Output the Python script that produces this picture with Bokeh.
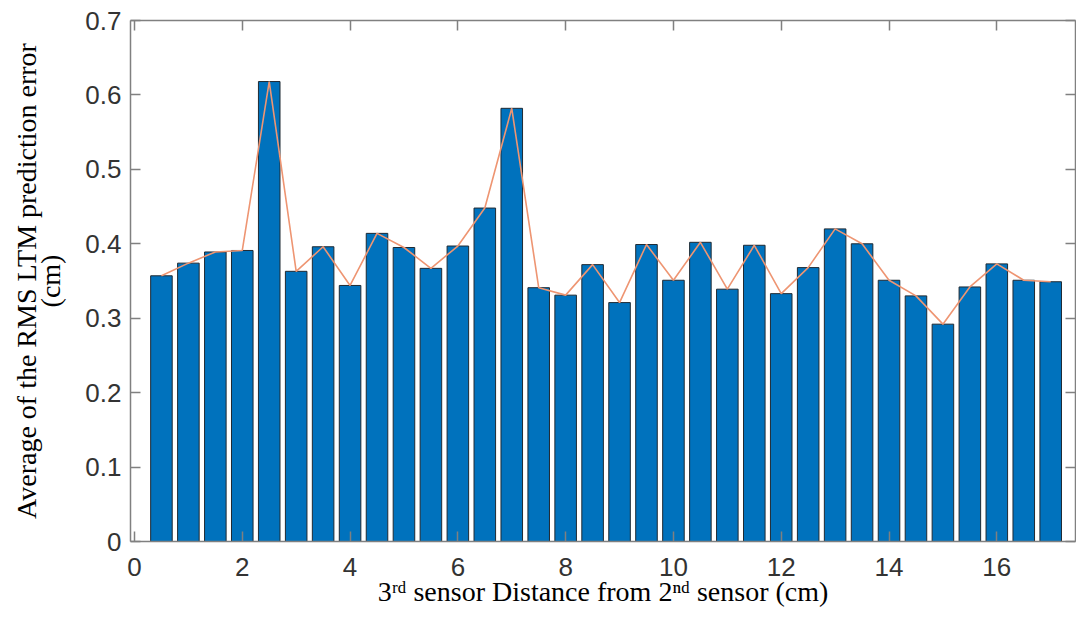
from bokeh.plotting import figure
from bokeh.models import Range1d, FixedTicker, LinearAxis, CustomJSTickFormatter
from bokeh.embed import file_html
from bokeh.resources import INLINE

# ---- data ----
distance_cm = [0.5, 1.0, 1.5, 2.0, 2.5, 3.0, 3.5, 4.0, 4.5, 5.0, 5.5, 6.0,
               6.5, 7.0, 7.5, 8.0, 8.5, 9.0, 9.5, 10.0, 10.5, 11.0, 11.5, 12.0,
               12.5, 13.0, 13.5, 14.0, 14.5, 15.0, 15.5, 16.0, 16.5, 17.0]
rms_error_cm = [0.357, 0.374, 0.389, 0.391, 0.618, 0.363, 0.396, 0.344, 0.414, 0.395, 0.367, 0.397,
                0.448, 0.582, 0.341, 0.331, 0.372, 0.321, 0.399, 0.351, 0.402, 0.339, 0.398, 0.333,
                0.368, 0.420, 0.400, 0.351, 0.330, 0.292, 0.342, 0.373, 0.351, 0.349]
x_ticks = [0, 2, 4, 6, 8, 10, 12, 14, 16]
x_tick_labels = ["0", "2", "4", "6", "8", "10", "12", "14", "16"]
y_ticks = [0, 0.1, 0.2, 0.3, 0.4, 0.5, 0.6, 0.7]
y_tick_labels = ["0", "0.1", "0.2", "0.3", "0.4", "0.5", "0.6", "0.7"]
x_label = "3\u02b3\u1d48 sensor Distance from 2\u207f\u1d48 sensor (cm)"
y_label = "Average of the RMS LTM prediction error\n(cm)"

AX = "#808080"
TICK_TXT = "#333333"
SANS = "Liberation Sans"
SERIF = "Liberation Serif"

W, H = 1076, 627
p = figure(width=W, height=H, output_backend="svg", toolbar_location=None,
           x_range=Range1d(-0.074, 17.46), y_range=Range1d(0, 0.7),
           min_border_left=130, min_border_top=20, min_border_bottom=86, min_border_right=1)
p.grid.visible = False
p.outline_line_color = None
p.background_fill_color = "white"
p.border_fill_color = "white"

p.vbar(x=distance_cm, top=rms_error_cm, width=0.4, bottom=0,
       fill_color="#0072BD", line_color="#1f2a33", line_width=1)
p.line(x=distance_cm, y=rms_error_cm, line_color="#EE9572", line_width=1.6)

def style_axis(ax, ticks, labels, show_labels=True):
    ax.ticker = FixedTicker(ticks=ticks)
    ax.axis_line_color = AX
    ax.axis_line_width = 1.5
    ax.major_tick_line_color = AX
    ax.major_tick_line_width = 1.5
    ax.major_tick_in = 10
    ax.major_tick_out = 0
    ax.minor_tick_line_color = None
    if show_labels:
        ax.major_label_overrides = {t: l for t, l in zip(ticks, labels)}
        ax.major_label_text_font = SANS
        ax.major_label_text_font_size = "26px"
        ax.major_label_text_color = TICK_TXT
        ax.axis_label_text_font = SERIF
        ax.axis_label_text_font_size = "28px"
        ax.axis_label_text_font_style = "normal"
        ax.axis_label_text_color = "black"
        ax.axis_label_text_line_height = 0.8
    else:
        ax.formatter = CustomJSTickFormatter(code="return ''")
        ax.major_label_standoff = 0
        ax.major_label_text_font_size = "1px"

xa = p.xaxis[0]
style_axis(xa, x_ticks, x_tick_labels)
xa.major_label_standoff = 16
xa.axis_label = x_label
xa.axis_label_standoff = -3

ya = p.yaxis[0]
style_axis(ya, y_ticks, y_tick_labels)
ya.major_label_standoff = 9
ya.axis_label = y_label
ya.axis_label_standoff = 16

top_ax = LinearAxis()
style_axis(top_ax, x_ticks, x_tick_labels, show_labels=False)
p.add_layout(top_ax, "above")
right_ax = LinearAxis()
style_axis(right_ax, y_ticks, y_tick_labels, show_labels=False)
p.add_layout(right_ax, "right")

open("out.html", "w").write(file_html(p, INLINE))
